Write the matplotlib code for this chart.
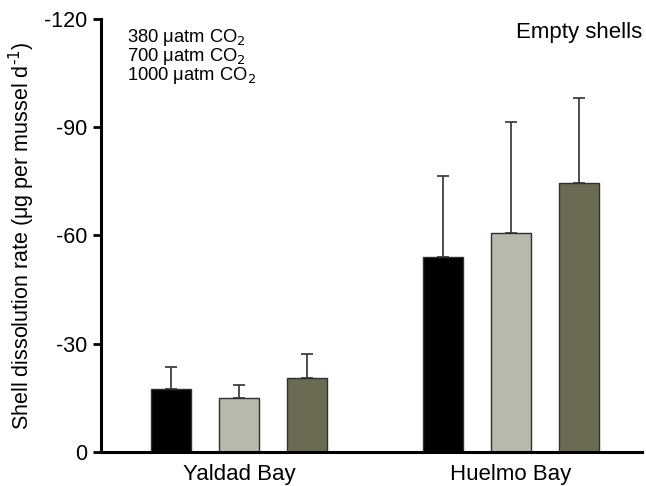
import numpy as np
import matplotlib
matplotlib.use("Agg")
import matplotlib.pyplot as plt

plt.rcParams["font.family"] = ["Liberation Sans", "DejaVu Sans"]
plt.rcParams["axes.unicode_minus"] = False

# ---------------------------------------------------------------
# Data
# ---------------------------------------------------------------
sites = ["Yaldad Bay", "Huelmo Bay"]
treatments = ["380 \u03bcatm CO$_2$", "700 \u03bcatm CO$_2$", "1000 \u03bcatm CO$_2$"]
colors = ["#000000", "#b8b8ab", "#6b6b53"]

rate_380 = [-17.5, -54.0]
rate_700 = [-15.0, -60.7]
rate_1000 = [-20.5, -74.6]
err_380 = [6.1, 22.5]
err_700 = [3.6, 30.8]
err_1000 = [6.7, 23.5]

rates = [rate_380, rate_700, rate_1000]
errs = [err_380, err_700, err_1000]

# ---------------------------------------------------------------
# Plot
# ---------------------------------------------------------------
fig = plt.figure(figsize=(6.46, 4.86), dpi=100)
ax = fig.add_axes([0.1563, 0.070, 0.838, 0.891])

centers = np.array([0.0, 4.0])
width = 0.6
for i, (vals, e, c) in enumerate(zip(rates, errs, colors)):
    x = centers + (i - 1)
    ax.bar(x, vals, width=width, color=c, edgecolor="#303030", linewidth=1.0, zorder=2)
    ax.errorbar(x, vals, yerr=[e, np.zeros(len(e))], fmt="none", ecolor="#404040",
                elinewidth=1.3, capsize=4, capthick=1.3, zorder=1)

ax.set_ylim(0, -120)
ax.set_yticks([0, -30, -60, -90, -120])
ax.set_xlim(-2.03, 5.93)
ax.set_xticks(centers)
ax.set_xticklabels(sites, fontsize=16)
ax.tick_params(axis="x", length=0, pad=9)
ax.tick_params(axis="y", direction="out", length=6, width=2, labelsize=15.5, pad=4)

for s in ["top", "right"]:
    ax.spines[s].set_visible(False)
for s in ["left", "bottom"]:
    ax.spines[s].set_linewidth(2.2)

ax.set_ylabel("Shell dissolution rate (\u03bcg per mussel d$^{\\text{-}1}$)",
              fontsize=15.5, labelpad=5)

for k, t in enumerate(treatments):
    ax.text(0.048, 0.958 - k * 0.044, t, transform=ax.transAxes, fontsize=13.2,
            ha="left", va="center")
ax.text(1.0, 0.968, "Empty shells", transform=ax.transAxes, fontsize=16,
        ha="right", va="center")

fig.savefig("out.png", dpi=100)
